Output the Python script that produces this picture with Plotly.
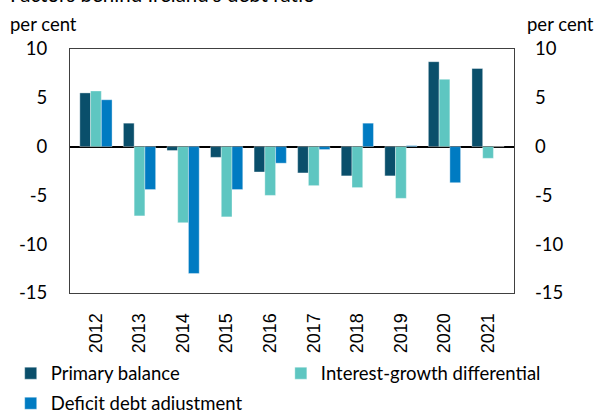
import plotly.graph_objects as go

years = ["2012", "2013", "2014", "2015", "2016", "2017", "2018", "2019", "2020", "2021"]
primary_balance = [5.5, 2.4, -0.4, -1.1, -2.6, -2.7, -3.0, -3.0, 8.7, 8.0]
interest_growth = [5.7, -7.1, -7.8, -7.2, -5.0, -4.0, -4.2, -5.3, 6.9, -1.2]
deficit_debt_adj = [4.8, -4.4, -13.0, -4.4, -1.7, -0.3, 2.4, 0.1, -3.7, 0.0]

y_ticks = [10, 5, 0, -5, -10, -15]
FONT = "Lato"
FS = 18.5

fig = go.Figure()
series = [
    ("Primary balance", primary_balance, "#0A4F6B", "legend"),
    ("Interest-growth differential", interest_growth, "#5EC6C1", "legend2"),
    ("Deficit debt adjustment", deficit_debt_adj, "#007BC2", "legend"),
]
for name, vals, col, leg in series:
    fig.add_trace(go.Bar(
        x=years, y=vals, name=name, legend=leg, legendgroup=name,
        marker=dict(color=col, line=dict(color="rgba(255,255,255,0.6)", width=0.6)),
    ))

# invisible trace so the right-hand axis is drawn
fig.add_trace(go.Scatter(x=years, y=[0] * len(years), yaxis="y2",
                         mode="markers", marker=dict(opacity=0),
                         showlegend=False, hoverinfo="skip"))

legend_style = dict(
    orientation="v", xref="container", yref="container",
    y=0.135, xanchor="left", yanchor="top",
    font=dict(family=FONT, size=FS), itemwidth=30,
    tracegroupgap=3, bgcolor="rgba(0,0,0,0)",
)

fig.update_layout(
    width=595, height=410,
    margin=dict(l=70, r=81, t=49, b=117, autoexpand=False),
    paper_bgcolor="white", plot_bgcolor="white",
    font=dict(family=FONT, size=FS, color="black"),
    barmode="group", bargap=0.26, bargroupgap=0,
    showlegend=True,
    legend=dict(x=0.018, **legend_style),
    legend2=dict(x=0.472, **legend_style),
    xaxis=dict(
        type="category", tickangle=-90,
        tickfont=dict(family="Liberation Sans, Arial", size=18),
        showline=True, mirror=True, linecolor="#404040", linewidth=1,
        ticks="", showgrid=False, zeroline=False, ticklabelstandoff=12,
    ),
    yaxis=dict(
        range=[-15, 10], tickvals=y_ticks, ticktext=[str(v) for v in y_ticks],
        showgrid=False, zeroline=True, zerolinecolor="black", zerolinewidth=1.5,
        showline=True, linecolor="#404040", linewidth=1, mirror=True,
        ticks="", ticklabelstandoff=18,
    ),
    yaxis2=dict(
        range=[-15, 10], tickvals=y_ticks, ticktext=[str(v) for v in y_ticks],
        overlaying="y", side="right", showgrid=False, zeroline=False,
        showline=False, ticks="", ticklabelstandoff=20,
    ),
    annotations=[
        dict(text="Factors behind Ireland's debt ratio", xref="paper", yref="paper",
             x=-0.139, y=1.0, xanchor="left", yanchor="bottom", yshift=41,
             showarrow=False, font=dict(size=20.5)),
        dict(text="per cent", xref="paper", yref="paper", x=-0.139, y=1.0,
             xanchor="left", yanchor="middle", yshift=25, showarrow=False,
             font=dict(size=FS)),
        dict(text="per cent", xref="paper", yref="paper", x=1.0, y=1.0,
             xanchor="left", yanchor="middle", xshift=11, yshift=25, showarrow=False,
             font=dict(size=FS)),
    ],
)

fig.write_html("out.html")
